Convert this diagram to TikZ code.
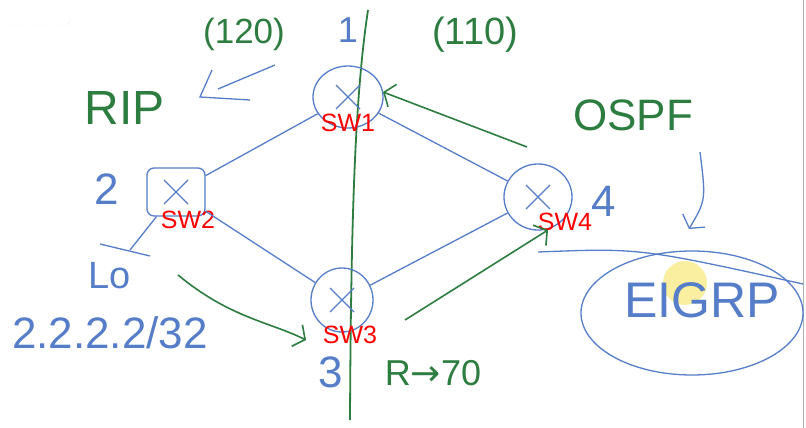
\documentclass[tikz,border=0pt]{standalone}
\usepackage{fontspec}
\setmainfont{Liberation Sans}
\newfontfamily\arrowfont{DejaVu Sans}
\usetikzlibrary{shapes.geometric, arrows.meta}
\definecolor{penGreen}{RGB}{45,125,65}
\definecolor{penBlue}{RGB}{85,125,200}
\definecolor{swRed}{RGB}{255,0,0}
\definecolor{hiYellow}{RGB}{250,238,160}
\tikzset{
  nodeSW/.style={draw=penBlue, line width=1.3pt, inner sep=0pt},
  nodeRound/.style={ellipse},
  nodeBox/.style={rounded corners=7pt},
  swName/.style={text=swRed, inner sep=0pt, font=\fontsize{25}{25}\selectfont},
  handBlue/.style={text=penBlue, inner sep=0pt},
  handGreen/.style={text=penGreen, inner sep=0pt},
  link/.style={draw=penBlue, line width=1.3pt},
  route/.style={draw=penGreen, line width=1.6pt, -{Straight Barb[length=9pt, width=24pt]}},
  hint/.style={draw=penBlue, line width=1.3pt, -{Straight Barb[length=9pt, width=26pt]}}
}

\begin{document}
\begin{tikzpicture}[x=1pt, y=-1pt]
  \useasboundingbox (0,0) rectangle (806,428);
  % screen bits
  \draw[gray!40, dotted, rounded corners=5pt] (-6,-6) rectangle (70,25);
  \draw[gray!60, line width=1pt] (803,0) -- (803,428);
  \fill[hiYellow] (685,283) circle (22);

  % divider
  \coordinate (cutTop) at (368,10);
  \coordinate (cutBot) at (350,420);
  \draw[penGreen, line width=1.8pt] (cutTop) .. controls (356,90) and (351,200) .. (cutBot);

  % switches
  \node[nodeSW, nodeRound, minimum width=70, minimum height=62] (SW1) at (348,97) {};
  \node[nodeSW, nodeBox, minimum width=58, minimum height=48] (SW2) at (176,192) {};
  \node[nodeSW, nodeRound, minimum width=62, minimum height=64] (SW3) at (342,300) {};
  \node[nodeSW, nodeRound, minimum width=68, minimum height=66] (SW4) at (538,197) {};
  \foreach \sw in {SW1,SW2,SW3,SW4}
    \draw[penBlue, line width=1.3pt]
      ([shift={(-12,12)}]\sw.center) -- ([shift={(12,-12)}]\sw.center)
      ([shift={(-12,-12)}]\sw.center) -- ([shift={(12,12)}]\sw.center);

  \node[swName] (SW1-name) at (348,123) {SW1};
  \node[swName] (SW2-name) at (188,220) {SW2};
  \node[swName] (SW3-name) at (350,335) {SW3};
  \node[swName] (SW4-name) at (565,222) {SW4};

  \path[link]
    (SW1) edge (SW2)
    (SW1) edge (SW4)
    (SW2) edge (SW3)
    (SW3) edge (SW4);

  % loopback
  \node[handBlue, font=\fontsize{38}{38}\selectfont] (Lo) at (110,276) {Lo};
  \node[handBlue, font=\fontsize{44}{44}\selectfont] (Lo-ip) at (110,333) {2.2.2.2/32};
  \coordinate (loBar) at (130,250);
  \draw[link] (SW2) -- (loBar);
  \draw[link] (100,244) -- (150,256);

  % labels
  \node[handBlue, font=\fontsize{36}{36}\selectfont] (num1) at (348,30) {1};
  \node[handBlue, font=\fontsize{44}{44}\selectfont] (num2) at (107,189) {2};
  \node[handBlue, font=\fontsize{44}{44}\selectfont] (num3) at (331,372) {3};
  \node[handBlue, font=\fontsize{44}{44}\selectfont] (num4) at (604,201) {4};
  \node[handGreen, font=\fontsize{48}{48}\selectfont] (RIP) at (125,108) {RIP};
  \node[handGreen, font=\fontsize{35}{35}\selectfont] (ad-rip) at (244,34) {(120)};
  \node[handGreen, font=\fontsize{38}{38}\selectfont] (ad-ospf) at (475,35) {(110)};
  \node[handGreen, font=\fontsize{44}{44}\selectfont] (OSPF) at (633,115) {OSPF};
  \node[handGreen, font=\fontsize{36}{36}\selectfont] (redist) at (433,373) {R{\arrowfont →}70};

  % EIGRP area
  \node[draw=penBlue, line width=1.3pt, ellipse, minimum width=222, minimum height=124] (EIGRP-area) at (692,313) {};
  \node[handBlue, font=\fontsize{50}{50}\selectfont] (EIGRP) at (702,300) {EIGRP};
  \coordinate (sw4Tail) at (538,252);
  \coordinate (eigrpEdge) at (803,284);
  \draw[link] (sw4Tail) .. controls (640,248) .. (eigrpEdge);

  % arrows
  \coordinate (ripTail) at (275,65);
  \coordinate (ripHead) at (200,97);
  \draw[link] (ripTail) -- (218,89);
  \draw[link] (212,70) -- (ripHead) -- (250,100);
  \coordinate (ospfTail) at (700,152);
  \coordinate (ospfHead) at (689,229);
  \draw[hint] (ospfTail) .. controls (706,200) .. (ospfHead);
  \draw[route] ([shift={(-11,-50)}]SW4.center) -- ([shift={(35,-5)}]SW1.center);
  \draw[route] ([shift={(63,20)}]SW3.center) -- ([shift={(10,33)}]SW4.center);
  \coordinate (loArrow) at (178,275);
  \draw[route] (loArrow) .. controls (230,318) and (270,322) .. ([shift={(-36,40)}]SW3.center);
\end{tikzpicture}
\end{document}
